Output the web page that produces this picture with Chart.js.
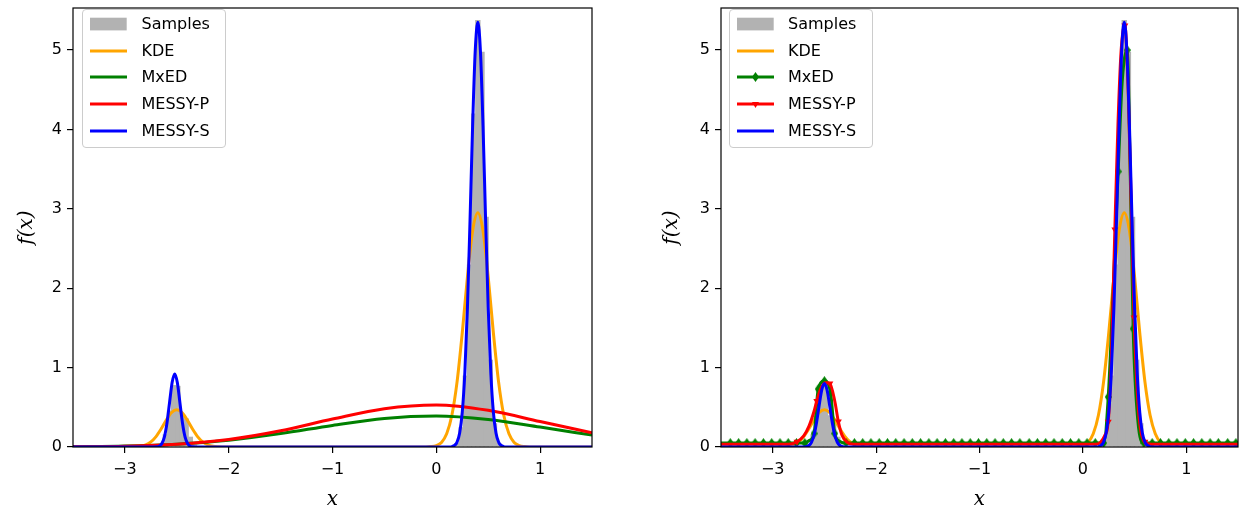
<!DOCTYPE html>
<html>
<head>
<meta charset="utf-8">
<script src="https://cdn.jsdelivr.net/npm/chart.js@4.4.1/dist/chart.umd.min.js"></script>
<style>
  html, body { margin: 0; padding: 0; background: #fff; }
  #fig { position: relative; width: 1246px; height: 518px; overflow: hidden; }
  #fig canvas { position: absolute; top: 0; }
  .legend {
    position: absolute; top: 9px; width: 144px; height: 139px; box-sizing: border-box;
    border: 1px solid #cccccc; border-radius: 4px; background: rgba(255, 255, 255, 0.8);
    font: 16px "DejaVu Sans", sans-serif; color: #000;
  }
  .legend .row { position: absolute; left: 0; height: 26px; width: 100%; }
  .legend svg { position: absolute; top: 0; }
  .legend span { position: absolute; top: 0; line-height: 26px; white-space: nowrap; }
</style>
</head>
<body>
<div id="fig">
  <canvas id="left" width="623" height="518" style="left:0"></canvas>
  <canvas id="right" width="623" height="518" style="left:623px"></canvas>
  <div class="legend" id="legendLeft" style="left:82px"></div>
  <div class="legend" id="legendRight" style="left:729px"></div>
</div>
<script>
const xTicks = [-3, -2, -1, 0, 1];
const yTicks = [0, 1, 2, 3, 4, 5];
const legendLabels = ["Samples", "KDE", "MxED", "MESSY-P", "MESSY-S"];

// histogram of the samples (bin centres, density)
const histX = [-2.65, -2.61, -2.57, -2.53, -2.49, -2.45, -2.41, -2.37, -2.33,
               0.20, 0.24, 0.28, 0.32, 0.36, 0.40, 0.44, 0.48, 0.52, 0.56, 0.60];
const histY = [0.04, 0.16, 0.46, 0.78, 0.77, 0.40, 0.36, 0.13, 0.03,
               0.05, 0.25, 0.9, 2.3, 4.2, 5.38, 4.98, 2.9, 1.1, 0.3, 0.05];

// KDE (same in both panels)
const kdeX = [-3.5, -3.0, -2.95, -2.9, -2.85, -2.8, -2.75, -2.7, -2.65, -2.6, -2.55, -2.5,
              -2.45, -2.4, -2.35, -2.3, -2.25, -2.2, -2.15, -2.1, -2.05, -2.0,
              -0.1, -0.05, 0.0, 0.05, 0.1, 0.15, 0.2, 0.25, 0.3, 0.35, 0.4,
              0.45, 0.5, 0.55, 0.6, 0.65, 0.7, 0.75, 0.8, 0.85, 0.9, 1.5];
const kdeY = [0, 0, 0.001, 0.003, 0.009, 0.026, 0.064, 0.131, 0.229, 0.341, 0.434, 0.47,
              0.434, 0.341, 0.229, 0.131, 0.064, 0.026, 0.009, 0.003, 0.001, 0,
              0.001, 0.005, 0.018, 0.058, 0.166, 0.399, 0.820, 1.436, 2.142, 2.723, 2.95,
              2.723, 2.142, 1.436, 0.820, 0.399, 0.166, 0.058, 0.018, 0.005, 0.001, 0];

// left panel
const mxedLX = [-3.5, -3.0, -2.5, -2.0, -1.5, -1.0, -0.5, 0.0, 0.5, 1.0, 1.5];
const mxedLY = [0.003, 0.012, 0.036, 0.086, 0.169, 0.272, 0.360, 0.390, 0.346, 0.251, 0.150];
const messyPLX = [-3.5, -3.0, -2.5, -2.0, -1.5, -1.0, -0.5, 0.0, 0.5, 1.0, 1.5];
const messyPLY = [0.002, 0.010, 0.035, 0.094, 0.204, 0.352, 0.483, 0.530, 0.462, 0.321, 0.178];
const messySLX = [-3.5, -2.72, -2.695, -2.67, -2.645, -2.62, -2.595, -2.57, -2.545, -2.52,
                  -2.495, -2.47, -2.445, -2.42, -2.395, -2.37, -2.345, -2.32,
                  0.1, 0.125, 0.15, 0.175, 0.2, 0.225, 0.25, 0.275, 0.3, 0.325, 0.35, 0.375, 0.4,
                  0.425, 0.45, 0.475, 0.5, 0.525, 0.55, 0.575, 0.6, 0.625, 0.65, 0.675, 0.7, 1.5];
const messySLY = [0, 0, 0.002, 0.010, 0.040, 0.124, 0.299, 0.558, 0.812, 0.92,
                  0.812, 0.558, 0.299, 0.124, 0.040, 0.010, 0.002, 0,
                  0, 0.001, 0.005, 0.019, 0.062, 0.177, 0.437, 0.939, 1.756, 2.860, 4.050, 4.990, 5.35,
                  4.990, 4.050, 2.860, 1.756, 0.939, 0.437, 0.177, 0.062, 0.019, 0.005, 0.001, 0, 0];

// right panel
const mxedRX = [-3.5, -2.69, -2.65, -2.60, -2.56, -2.50, -2.44, -2.40, -2.35, -2.29,
                0.20, 0.245, 0.29, 0.341, 0.38, 0.428, 0.46, 0.486, 0.53, 0.59, 1.5];
const mxedRY = [0.05, 0.05, 0.08, 0.17, 0.73, 0.83, 0.68, 0.17, 0.07, 0.05,
                0.05, 0.63, 1.9, 3.47, 4.6, 5.0, 3.3, 1.49, 0.35, 0.05, 0.05];
const mxedMarkX = [-3.41, -3.33, -3.25, -3.17, -3.09, -3.01, -2.93, -2.85, -2.77, -2.69,
                   -2.60, -2.56, -2.50, -2.44, -2.40,
                   -2.29, -2.21, -2.13, -2.05, -1.97, -1.89, -1.81, -1.73, -1.65, -1.57,
                   -1.49, -1.41, -1.33, -1.25, -1.17, -1.09, -1.01, -0.93, -0.85, -0.77,
                   -0.69, -0.61, -0.52, -0.44, -0.36, -0.28, -0.20, -0.12, -0.04, 0.04,
                   0.12, 0.20,
                   0.245, 0.341, 0.428, 0.486,
                   0.59, 0.67, 0.75, 0.83, 0.91, 0.99, 1.07, 1.15, 1.23, 1.31, 1.40, 1.48];
const mxedMarkY = [0.05, 0.05, 0.05, 0.05, 0.05, 0.05, 0.05, 0.05, 0.05, 0.05,
                   0.17, 0.73, 0.83, 0.68, 0.17,
                   0.05, 0.05, 0.05, 0.05, 0.05, 0.05, 0.05, 0.05, 0.05, 0.05,
                   0.05, 0.05, 0.05, 0.05, 0.05, 0.05, 0.05, 0.05, 0.05, 0.05,
                   0.05, 0.05, 0.05, 0.05, 0.05, 0.05, 0.05, 0.05, 0.05, 0.05,
                   0.05, 0.05,
                   0.63, 3.47, 5.0, 1.49,
                   0.05, 0.05, 0.05, 0.05, 0.05, 0.05, 0.05, 0.05, 0.05, 0.05, 0.05, 0.05];
const messyPRX = [-3.5, -2.85, -2.80, -2.765, -2.70, -2.65, -2.60, -2.574, -2.53, -2.49,
                  -2.447, -2.40, -2.365, -2.33, -2.28, -2.22,
                  0.12, 0.17, 0.21, 0.245, 0.275, 0.309, 0.34, 0.37, 0.406,
                  0.44, 0.47, 0.495, 0.53, 0.56, 0.60, 0.66, 1.5];
const messyPRY = [0.035, 0.035, 0.045, 0.066, 0.14, 0.26, 0.45, 0.58, 0.75, 0.81,
                  0.80, 0.58, 0.32, 0.15, 0.06, 0.035,
                  0.035, 0.06, 0.14, 0.317, 1.1, 2.74, 4.1, 5.0, 5.31,
                  4.4, 2.9, 1.63, 0.6, 0.2, 0.066, 0.035, 0.035];
const messyPMarkX = [-2.765, -2.574, -2.447, -2.365, 0.245, 0.309, 0.406, 0.495, 0.60];
const messyPMarkY = [0.066, 0.58, 0.80, 0.32, 0.317, 2.74, 5.31, 1.63, 0.066];
const messySRX = [-3.5, -2.725, -2.7, -2.675, -2.65, -2.625, -2.6, -2.575, -2.55, -2.525, -2.5,
                  -2.475, -2.45, -2.425, -2.4, -2.375, -2.35, -2.325, -2.3, -2.275,
                  0.1, 0.125, 0.15, 0.175, 0.2, 0.225, 0.25, 0.275, 0.3, 0.325, 0.35, 0.375, 0.4,
                  0.425, 0.45, 0.475, 0.5, 0.525, 0.55, 0.575, 0.6, 0.625, 0.65, 0.675, 0.7, 1.5];
const messySRY = [0, 0, 0.001, 0.005, 0.019, 0.060, 0.153, 0.316, 0.529, 0.722, 0.80,
                  0.722, 0.529, 0.316, 0.153, 0.060, 0.019, 0.005, 0.001, 0,
                  0, 0.001, 0.005, 0.019, 0.062, 0.177, 0.437, 0.939, 1.756, 2.860, 4.050, 4.990, 5.35,
                  4.990, 4.050, 2.860, 1.756, 0.939, 0.437, 0.177, 0.062, 0.019, 0.005, 0.001, 0, 0];

const GRAY = "#b2b2b2", ORANGE = "#ffa500", GREEN = "#008000", RED = "#ff0000", BLUE = "#0000ff";

Chart.defaults.font.family = "'DejaVu Sans', sans-serif";
Chart.defaults.color = "#000";

function pts(xs, ys) {
    return xs.map((x, i) => ({ x: x, y: ys[i] }));
}

function minus(v) {
    return v < 0 ? "\u2212" + (-v) : String(v);
}

// thin diamond marker like matplotlib's "d"
const diamond = document.createElement("canvas");
diamond.width = 7;
diamond.height = 10;
(function () {
    let c = diamond.getContext("2d");
    c.fillStyle = GREEN;
    c.beginPath();
    c.moveTo(3.5, 0); c.lineTo(7, 5); c.lineTo(3.5, 10); c.lineTo(0, 5);
    c.closePath();
    c.fill();
})();

const frame = {
    id: "frame",
    afterDatasetsDraw(chart) {
        let a = chart.chartArea, ctx = chart.ctx;
        ctx.save();
        ctx.strokeStyle = "#000";
        ctx.lineWidth = 1.2;
        ctx.strokeRect(a.left, a.top, a.right - a.left, a.bottom - a.top);
        ctx.restore();
    }
};

function line(xs, ys, color, order) {
    return {
        type: "line", data: pts(xs, ys), borderColor: color, backgroundColor: color,
        borderWidth: 3, pointRadius: 0, fill: false, order: order,
        cubicInterpolationMode: "monotone", borderJoinStyle: "round"
    };
}

function makeChart(id, datasets, yAxisWidth, rightPad, titlePad) {
    return new Chart(document.getElementById(id), {
        type: "bar",
        data: { datasets: datasets },
        options: {
            responsive: false,
            animation: false,
            devicePixelRatio: 1,
            layout: { padding: { left: 0, top: 8, right: rightPad, bottom: 0 } },
            plugins: { legend: { display: false }, tooltip: { enabled: false } },
            scales: {
                x: {
                    type: "linear", min: -3.5, max: 1.5, offset: false,
                    afterBuildTicks: s => { s.ticks = xTicks.map(v => ({ value: v })); },
                    afterFit: s => { s.height = 71; s.paddingLeft = 0; s.paddingRight = 0; },
                    grid: { drawOnChartArea: false, drawTicks: true, tickLength: 6, color: "#000", lineWidth: 1.2, offset: false },
                    border: { display: false },
                    ticks: { font: { size: 16 }, padding: 7, maxRotation: 0, autoSkip: false, callback: minus },
                    title: { display: true, text: "x", font: { family: "'DejaVu Serif', serif", style: "italic", size: 20 }, padding: { top: 6, bottom: 6 } }
                },
                y: {
                    type: "linear", min: 0, max: 5.53,
                    afterBuildTicks: s => { s.ticks = yTicks.map(v => ({ value: v })); },
                    afterFit: s => { s.width = yAxisWidth; s.paddingTop = 0; s.paddingBottom = 0; },
                    grid: { drawOnChartArea: false, drawTicks: true, tickLength: 6, color: "#000", lineWidth: 1.2 },
                    border: { display: false },
                    ticks: { font: { size: 16 }, padding: 5, callback: minus },
                    title: { display: true, text: "f(x)", font: { family: "'DejaVu Serif', serif", style: "italic", size: 20 }, padding: { top: titlePad, bottom: titlePad } }
                }
            }
        },
        plugins: [frame]
    });
}

function hist(order) {
    return {
        type: "bar", data: pts(histX, histY), backgroundColor: GRAY, borderWidth: 0,
        barPercentage: 1.3, categoryPercentage: 1, order: order
    };
}

makeChart("left", [
    hist(6),
    line(kdeX, kdeY, ORANGE, 5),
    line(mxedLX, mxedLY, GREEN, 4),
    line(messyPLX, messyPLY, RED, 2),
    line(messySLX, messySLY, BLUE, 0)
], 73, 31, 15);

makeChart("right", [
    hist(6),
    line(kdeX, kdeY, ORANGE, 5),
    line(mxedRX, mxedRY, GREEN, 4),
    { type: "line", showLine: false, data: pts(mxedMarkX, mxedMarkY), pointStyle: diamond,
      pointRadius: 4, backgroundColor: GREEN, borderColor: GREEN, order: 3 },
    line(messyPRX, messyPRY, RED, 2),
    { type: "line", showLine: false, data: pts(messyPMarkX, messyPMarkY), pointStyle: "triangle",
      rotation: 180, pointRadius: 4, pointBorderWidth: 0, backgroundColor: RED, borderColor: RED, order: 1 },
    line(messySRX, messySRY, BLUE, 0)
], 98, 8, 37);

// legends drawn inside the axes, like matplotlib
function swatch(i, markers) {
    let s = '<svg width="40" height="26" viewBox="0 0 40 26">';
    if (i === 0) {
        s += '<rect x="1" y="6.7" width="36.7" height="12.7" fill="' + GRAY + '"/>';
    } else {
        let c = [null, ORANGE, GREEN, RED, BLUE][i];
        s += '<line x1="1" y1="13" x2="38" y2="13" stroke="' + c + '" stroke-width="3"/>';
        if (markers && i === 2) s += '<polygon points="19.5,8 23,13 19.5,18 16,13" fill="' + GREEN + '"/>';
        if (markers && i === 3) s += '<polygon points="16,11 23,11 19.5,17" fill="' + RED + '"/>';
    }
    return s + "</svg>";
}

function buildLegend(id, swatchX, textX, markers) {
    let html = "";
    legendLabels.forEach((label, i) => {
        let top = 1 + i * 26.67;
        html += '<div class="row" style="top:' + top + 'px">' +
            '<div style="position:absolute;left:' + swatchX + 'px">' + swatch(i, markers) + "</div>" +
            '<span style="left:' + textX + 'px">' + label + "</span></div>";
    });
    document.getElementById(id).innerHTML = html;
}

buildLegend("legendLeft", 6, 58.5, false);
buildLegend("legendRight", 6, 58, true);
</script>
</body>
</html>
